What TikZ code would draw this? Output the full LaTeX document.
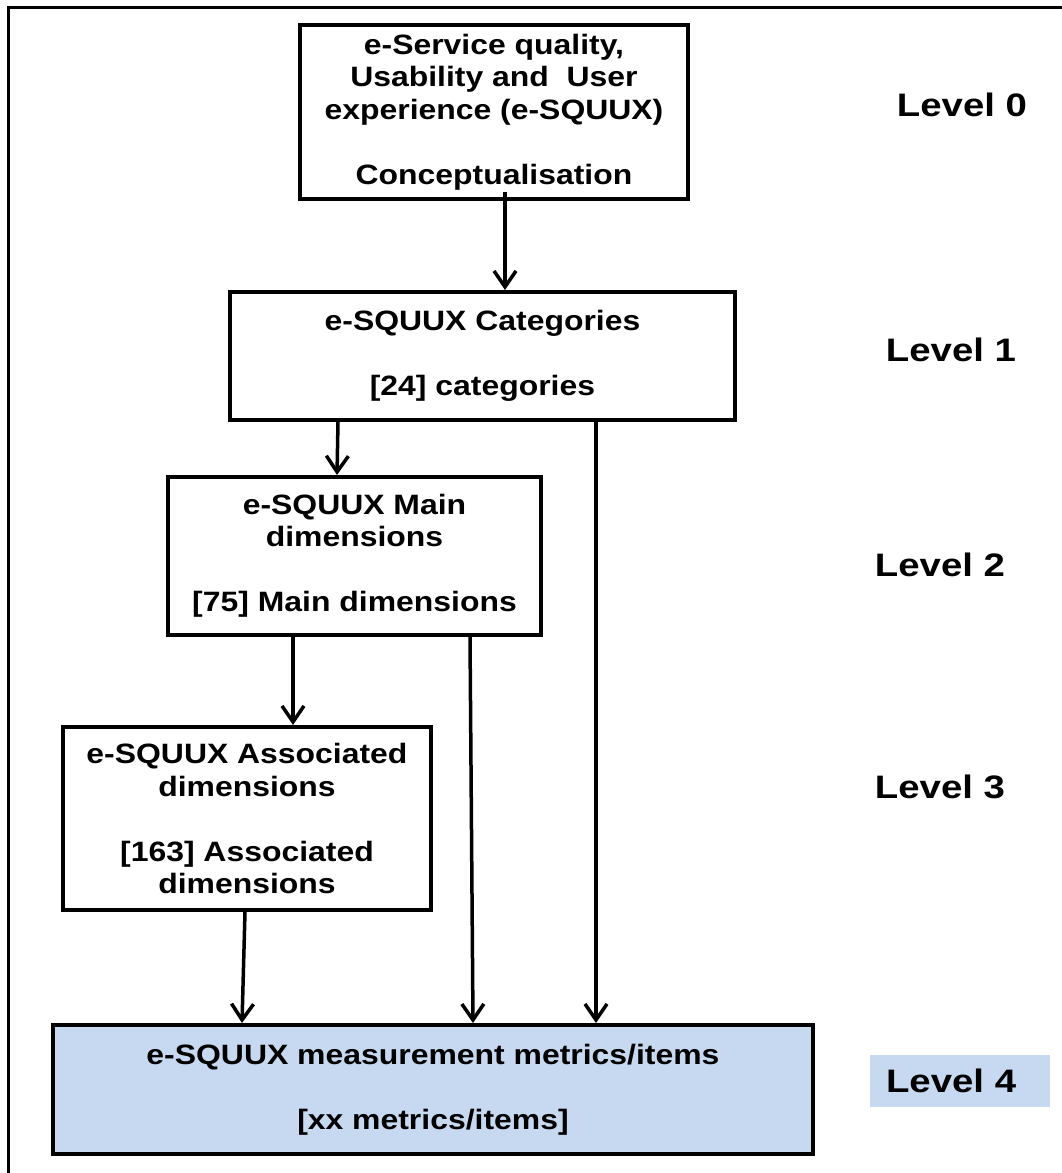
\documentclass[tikz,border=0pt]{standalone}
\usepackage{fontspec}
\usetikzlibrary{arrows.meta}
\newfontfamily\boxfont{Liberation Sans}[FakeStretch=1.14]
\newfontfamily\levelfont{Liberation Sans}[FakeStretch=1.18]
\definecolor{lightblue}{HTML}{C6D9F0}
\tikzset{
  stage/.style={draw=black, line width=4pt, fill=white, align=center,
    inner sep=0pt, font=\boxfont\bfseries\fontsize{28}{32.5}\selectfont},
  level/.style={inner sep=0pt, font=\levelfont\bfseries\fontsize{32.5}{36}\selectfont},
  arr/.style={line width=3.5pt, -{Straight Barb[length=16pt,width=22pt]}}
}
\begin{document}
\begin{tikzpicture}[x=1pt,y=-1pt]
  \useasboundingbox (0,0) rectangle (1062,1173);
  % outer frame (right and bottom edges fall outside the page)
  \draw[line width=3pt] (8,1200) -- (8,7) -- (1090,7);

  % stages
  \node[stage, line width=3.5pt, minimum width=388pt, minimum height=174pt] (l0) at (494,112)
    {e-Service quality,\\ Usability and\ \ User\\ experience (e-SQUUX)\\[32.5pt] Conceptualisation};
  \node[stage, minimum width=505pt, minimum height=128pt] (l1) at (482.5,356)
    {e-SQUUX Categories\\[32.5pt] [24] categories};
  \node[stage, minimum width=373pt, minimum height=158pt] (l2) at (354.5,556)
    {e-SQUUX Main\\ dimensions\\[32.5pt] [75] Main dimensions};
  \node[stage, minimum width=368pt, minimum height=183pt] (l3) at (247,818.5)
    {e-SQUUX Associated\\ dimensions\\[32.5pt] [163] Associated\\ dimensions};
  \node[stage, fill=lightblue, minimum width=760pt, minimum height=129pt] (l4) at (433,1089.5)
    {e-SQUUX measurement metrics/items\\[32.5pt] [xx metrics/items]};

  % level labels
  \node[level] (lv0) at (962,105) {Level 0};
  \node[level] (lv1) at (951,350) {Level 1};
  \node[level] (lv2) at (940,565) {Level 2};
  \node[level] (lv3) at (940,787) {Level 3};
  \node[level, fill=lightblue, text width=148pt, align=left, inner xsep=16pt,
        minimum height=52pt] (lv4) at (960,1081) {Level 4};

  % connectors
  \draw[arr] ([xshift=11pt,yshift=9pt]l0.south) -- ([xshift=22.5pt]l1.north);
  \draw[arr] ([xshift=-144.5pt]l1.south) -- ([xshift=-17.5pt]l2.north);
  \draw[arr] ([xshift=-61.5pt]l2.south) -- ([xshift=46pt]l3.north);
  \draw[arr] ([xshift=-2pt]l3.south) -- ([xshift=-191pt]l4.north);
  \draw[arr] ([xshift=115.5pt]l2.south) -- ([xshift=40pt]l4.north);
  \draw[arr] ([xshift=113.5pt]l1.south) -- ([xshift=163pt]l4.north);
\end{tikzpicture}
\end{document}
